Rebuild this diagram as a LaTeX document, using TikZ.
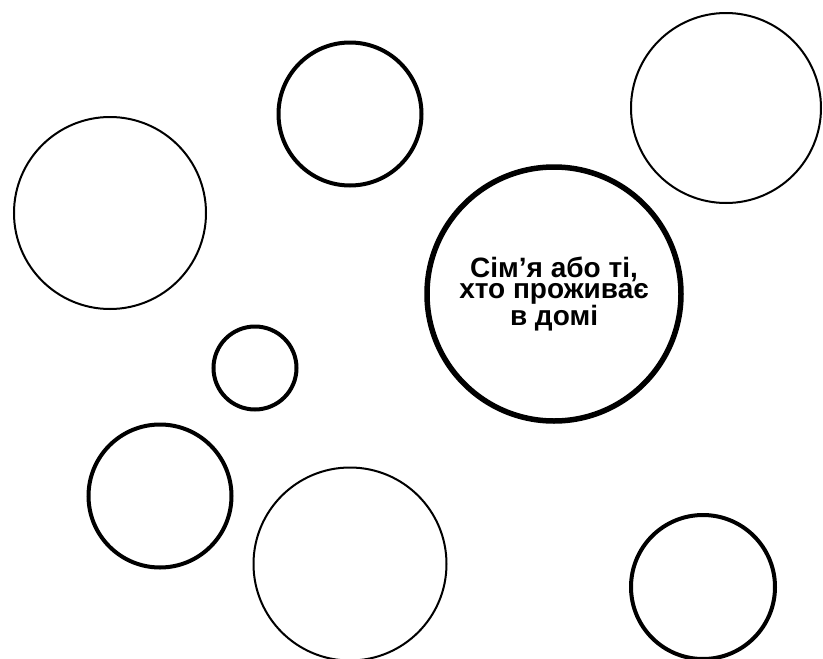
\documentclass[tikz,border=0pt]{standalone}
\usepackage{fontspec}
\setmainfont{Liberation Sans}

\begin{document}
\begin{tikzpicture}[x=1pt,y=-1pt,
  thinring/.style={draw=black, line width=2pt, circle, inner sep=0pt},
  ring/.style={draw=black, line width=4pt, circle, inner sep=0pt},
  bigring/.style={draw=black, line width=5.5pt, circle, inner sep=0pt, align=center, font=\bfseries\fontsize{28}{21}\selectfont}]
\useasboundingbox (0,0) rectangle (823,659);
\node[ring] (0) at (350,114) [minimum size=143pt] {};
\node[thinring] (1) at (726,108) [minimum size=190pt] {};
\node[thinring] (2) at (110,213) [minimum size=192pt] {};
\node[bigring] (3) at (554,294) [minimum size=254pt] {Сім’я або ті,\\хто проживає\\в домі};
\node[ring] (4) at (255,368) [minimum size=83pt] {};
\node[ring] (5) at (160,496) [minimum size=143pt] {};
\node[thinring] (6) at (350,564) [minimum size=193pt] {};
\node[ring] (7) at (703,587) [minimum size=144pt] {};
\end{tikzpicture}
\end{document}
